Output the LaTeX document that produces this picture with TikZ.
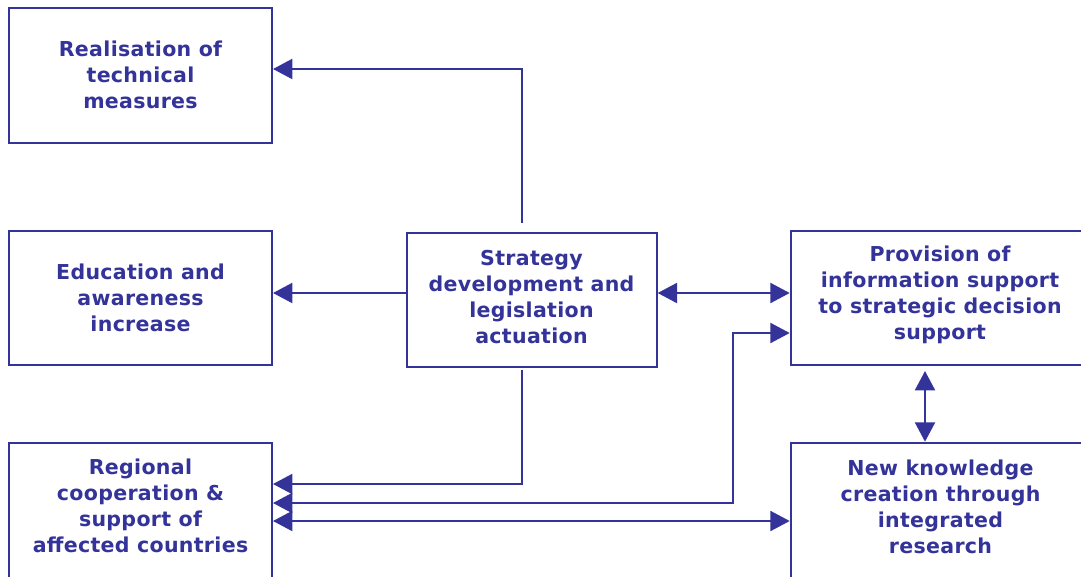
\documentclass[tikz,border=0pt]{standalone}
\usepackage{fontspec}
\setmainfont{DejaVu Sans}[LetterSpace=1.5]
\usetikzlibrary{arrows.meta,fit}
\definecolor{navy}{RGB}{51,51,153}
\tikzset{
  box/.style={draw=navy, line width=1.5pt, inner sep=0pt, rectangle},
  txt/.style={text=navy, align=center, font=\bfseries\fontsize{15.4}{19.5}\selectfont, inner sep=0pt},
  conn/.style={draw=navy, line width=1.5pt},
  tri/.tip={Triangle[length=14.5pt,width=15pt]}
}
\begin{document}
\begin{tikzpicture}[x=0.75pt,y=-0.75pt]
\useasboundingbox (0,0) rectangle (1081,576);
\clip (0,0) rectangle (1081,576);
\fill[white] (0,0) rectangle (1081,576);
% boxes
\node[box, fit={(9,8) (272,143)}] (A) {};
\node[box, fit={(9,231) (272,365)}] (B) {};
\node[box, fit={(9,443) (272,600)}] (C) {};
\node[box, fit={(406.7,232.7) (656.7,366.7)}] (D) {};
\node[box, fit={(790.7,231) (1090,365.3)}] (E) {};
\node[box, fit={(790.7,442.7) (1090,600)}] (F) {};
% texts
\node[txt] (At) at (140.5,75) {Realisation of\\technical\\measures};
\node[txt] (Bt) at (140.5,298) {Education and\\awareness\\increase};
\node[txt] (Ct) at (140.5,506) {Regional\\cooperation \&\\support of\\affected countries};
\node[txt] (Dt) at (531.5,297.5) {Strategy\\development and\\legislation\\actuation};
\node[txt] (Et) at (940,295) {Provision of\\information support\\to strategic decision\\support};
\node[txt] (Ft) at (940.5,507) {New knowledge\\creation through\\integrated\\research};
% free ends
\coordinate (Dtop) at (521.7,223);
\coordinate (Dbot) at (521.7,370);
\coordinate (bend) at (733,333);
\coordinate (Ebot) at (925,371);
% connectors
\draw[conn,-tri] (Dtop) |- (A.east |- 0,69);
\draw[conn,-tri] (D.west |- 0,293) -- (B.east |- 0,293);
\draw[conn,tri-tri] (D.east |- 0,293) -- (E.west |- 0,293);
\draw[conn,-tri] (Dbot) |- (C.east |- 0,484);
\draw[conn,tri-tri] (C.east |- 0,503) -| (bend) -- (E.west |- bend);
\draw[conn,tri-tri] (C.east |- 0,521) -- (F.west |- 0,521);
\draw[conn,tri-tri] (Ebot) -- (F.north -| Ebot);
\end{tikzpicture}
\end{document}
